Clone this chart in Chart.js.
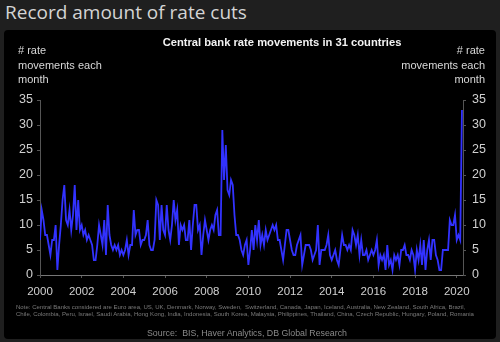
<!DOCTYPE html>
<html lang="en">
  <head>
    <meta charset="UTF-8" />
    <title>Record amount of rate cuts</title>
    <script src="https://cdn.jsdelivr.net/npm/chart.js@4"></script>
    <style>
      body {
        margin: 0;
        width: 500px;
        height: 342px;
        background: #1f1f1f;
        overflow: hidden;
        position: relative;
        font-family: "Liberation Sans", Arial, sans-serif;
      }
      h1 {
        position: absolute;
        left: 5px;
        top: -1px;
        margin: 0;
        font: 400 19px "Open Sans", sans-serif;
        color: #d4d4d4;
        white-space: nowrap;
      }
      #panel {
        position: absolute;
        left: 4px;
        top: 30px;
        width: 492px;
        height: 309px;
        background: #000;
        border-radius: 4px;
      }
      canvas {
        position: absolute;
        left: 0;
        top: 0;
      }
      .txt {
        position: absolute;
        white-space: nowrap;
      }
      #chartTitle {
        left: 0;
        width: 564px;
        top: 36px;
        text-align: center;
        font-weight: bold;
        font-size: 11.2px;
        color: #f2f2f2;
      }
      .axisTitle {
        top: 43px;
        font-size: 11px;
        line-height: 14.5px;
        color: #d8d8d8;
      }
      #leftTitle { left: 18px; }
      #rightTitle { right: 15px; text-align: right; }
      #note {
        left: 16px;
        top: 304px;
        font-size: 6.05px;
        line-height: 6.5px;
        color: #7a7a7a;
      }
      #source {
        left: 0;
        width: 494px;
        top: 328px;
        text-align: center;
        font-size: 8.8px;
        color: #8a8a8a;
      }
    </style>
  </head>
  <body>
    <h1>Record amount of rate cuts</h1>
    <div id="panel"></div>
    <canvas id="myChart" width="500" height="342"></canvas>
    <div class="txt" id="chartTitle">Central bank rate movements in 31 countries</div>
    <div class="txt axisTitle" id="leftTitle"># rate<br />movements each<br />month</div>
    <div class="txt axisTitle" id="rightTitle"># rate<br />movements each<br />month</div>
    <div class="txt" id="note">Note: Central Banks considered are Euro area, US, UK, Denmark, Norway, Sweden,&nbsp; Switzerland, Canada, Japan, Iceland, Australia, New Zealand, South Africa, Brazil,<br />Chile, Colombia, Peru, Israel, Saudi Arabia, Hong Kong, India, Indonesia, South Korea, Malaysia, Philippines, Thailand, China, Czech Republic, Hungary, Poland, Romania</div>
    <div class="txt" id="source">Source:&nbsp; BIS, Haver Analytics, DB Global Research</div>
    <script>
      // monthly number of rate moves, Jan 2000 .. Apr 2020
      const startYear = 2000;
      const rateMoves = [
        7, 13, 11, 8, 8, 6, 4, 7, 7, 10, 1, 6,        // 2000
        10, 15, 18, 11, 10, 13, 9, 12, 18, 9, 15, 9,  // 2001
        10, 8, 9, 7, 8, 7, 6, 3, 3, 6, 10, 8,         // 2002
        6, 11, 4, 14, 8, 6, 5, 6, 5, 6, 4, 5,         // 2003
        4, 5, 7, 4, 6, 6, 13, 8, 9, 9, 6, 7,          // 2004
        7, 8, 11, 6, 5, 5, 7, 15, 14, 7, 14, 9,       // 2005
        8, 14, 9, 7, 10, 15, 11, 13, 6, 10, 9, 10,    // 2006
        7, 7, 11, 5, 10, 14, 14, 9, 10, 4, 8, 11,     // 2007
        9, 7, 9, 10, 9, 12, 13, 8, 8, 29, 19, 26,     // 2008
        17, 16, 19, 18, 12, 8, 8, 7, 5, 4, 6, 7,      // 2009
        2, 5, 9, 5, 10, 7, 11, 6, 8, 6, 9, 7,         // 2010
        8, 9, 10, 9, 10, 7, 7, 5, 3, 6, 9, 9,         // 2011
        7, 5, 4, 4, 6, 7, 8, 2, 4, 6, 6, 6,           // 2012
        5, 3, 4, 5, 10, 2, 5, 5, 5, 6, 8, 4,          // 2013
        3, 4, 5, 3, 2, 5, 8, 6, 6, 5, 6, 5,           // 2014
        9, 8, 6, 8, 4, 7, 4, 4, 5, 3, 4, 5,           // 2015
        4, 5, 7, 2, 4, 3, 4, 1, 6, 2, 3, 1,           // 2016
        4, 3, 4, 2, 5, 5, 6, 4, 4, 3, 5, 4,           // 2017
        1, 5, 3, 6, 2, 7, 1, 5, 7, 3, 7, 7,           // 2018
        4, 3, 1, 1, 5, 5, 5, 5, 11, 10, 10, 12,       // 2019
        7, 8, 7, 33                                   // 2020
      ];
      const xTicks = [2000, 2002, 2004, 2006, 2008, 2010, 2012, 2014, 2016, 2018, 2020];
      const yTicks = [0, 5, 10, 15, 20, 25, 30, 35];

      const points = rateMoves.map((v, i) => ({ x: startYear + i / 12, y: v }));

      const fontFamily = "'Liberation Sans', Arial, sans-serif";
      const tickColor = "#d0d0d0";
      const axisColor = "#555";

      function yScale(pos, pad) {
        return {
          position: pos,
          min: 0,
          max: 35,
          afterBuildTicks: s => { s.ticks = yTicks.map(v => ({ value: v })); },
          afterFit: s => { s.width = pad; },
          grid: { drawOnChartArea: false, tickLength: 3, color: axisColor },
          border: { color: axisColor },
          ticks: { color: tickColor, font: { family: fontFamily, size: 12.5 }, padding: pos == "left" ? 4 : 6 }
        };
      }

      const ctx = document.getElementById("myChart").getContext("2d");
      const chart = new Chart(ctx, {
        type: "line",
        data: {
          datasets: [
            {
              data: points,
              borderColor: "#3232ff",
              borderWidth: 1.8,
              pointRadius: 0,
              tension: 0,
              yAxisID: "y"
            }
          ]
        },
        options: {
          responsive: false,
          animation: false,
          layout: { padding: { top: 100, bottom: 47, left: 0, right: 0 } },
          plugins: { legend: { display: false }, tooltip: { enabled: false } },
          scales: {
            x: {
              type: "linear",
              min: 2000,
              max: 2020.3,
              afterBuildTicks: s => { s.ticks = xTicks.map(v => ({ value: v })); },
              afterFit: s => { s.height = 20; },
              grid: { drawOnChartArea: false, tickLength: 3, color: axisColor },
              border: { color: "#777", dash: [2, 2] },
              ticks: { color: tickColor, font: { family: fontFamily, size: 11.5 }, padding: 7, maxRotation: 0, callback: v => String(v) }
            },
            y: yScale("left", 40),
            y2: yScale("right", 37)
          }
        }
      });
    </script>
  </body>
</html>
